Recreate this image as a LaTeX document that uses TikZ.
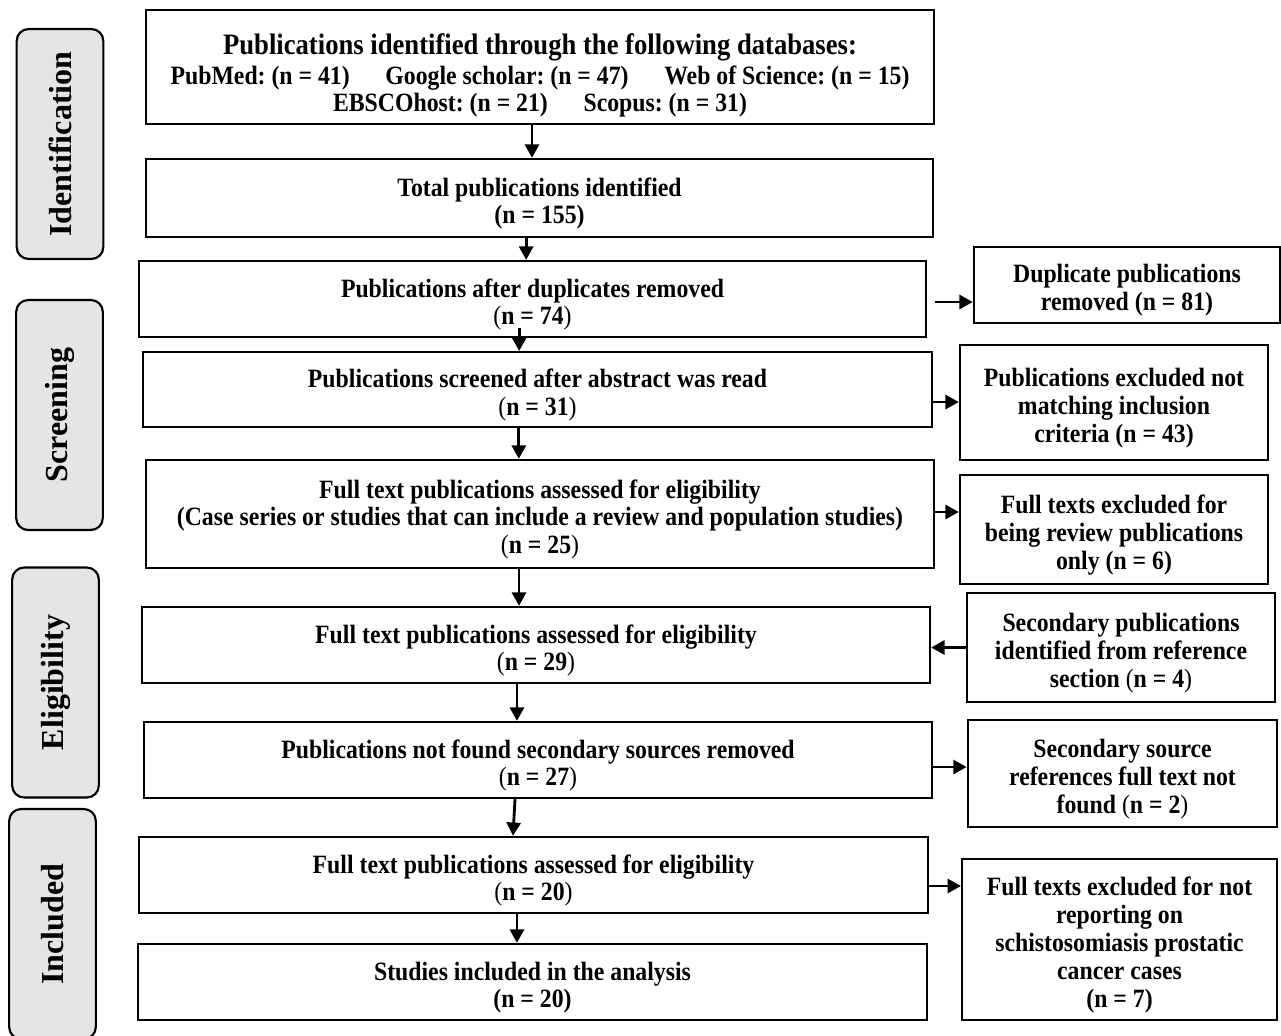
\documentclass[tikz,border=0pt]{standalone}
\usepackage{fontspec}
\setmainfont{Liberation Serif}
\newfontfamily\boxfont{Liberation Serif}[FakeStretch=0.9]
\usetikzlibrary{arrows.meta}
\frenchspacing

\newcommand{\np}[1]{\textmd{(}#1\textmd{)}}
\newcommand{\lift}{\rule{0pt}{22pt}}

\begin{document}
\begin{tikzpicture}[x=0.75pt,y=-0.75pt,
	flowbox/.style={draw,line width=1.8pt,align=center,inner sep=0pt,font=\boxfont\fontsize{19.8}{20.5}\selectfont\bfseries},
	sidebox/.style={flowbox,font=\boxfont\fontsize{19.8}{21}\selectfont\bfseries},
	stagebox/.style={draw,line width=1.6pt,rounded corners=9pt,fill=black!10,rotate=90,minimum width=172.5pt,minimum height=65pt,font=\fontsize{24}{28}\selectfont\bfseries},
	arr/.style={line width=2.1pt,-{Triangle[length=10pt,width=10.5pt]}}]
	\useasboundingbox (0,0) rectangle (1281,1035);

	% stages
	\node[stagebox] (ident) at (60,144) {Identification};
	\node[stagebox] (screen) at (59.5,415) {Screening};
	\node[stagebox] (elig) at (55.5,682.5) {Eligibility};
	\node[stagebox] (incl) at (52.5,924) {Included};

	% main column
	\node[flowbox,minimum width=591pt,minimum height=85.5pt] (src) at (540,67) {{\fontsize{22.2}{26}\selectfont\rule{0pt}{28pt}Publications identified through the following databases:}\\[2pt]
		PubMed: (n = 41)\hspace{1.35em}Google scholar: (n = 47)\hspace{1.35em}Web of Science: (n = 15)\\
		EBSCOhost: (n = 21)\hspace{1.35em}Scopus: (n = 31)};
	\node[flowbox,minimum width=590pt,minimum height=58.5pt] (tot) at (539.5,198) {\lift Total publications identified\\(n = 155)};
	\node[flowbox,minimum width=590pt,minimum height=57pt] (dedup) at (532.5,299) {\lift Publications after duplicates removed\\\np{n = 74}};
	\node[flowbox,minimum width=592pt,minimum height=56pt] (scr) at (537.5,389.5) {\lift Publications screened after abstract was read\\\np{n = 31}};
	\node[flowbox,minimum width=591pt,minimum height=81pt] (full) at (540,514) {\lift Full text publications assessed for eligibility\\(Case series or studies that can include a review and population studies)\\\np{n = 25}};
	\node[flowbox,minimum width=591pt,minimum height=57pt] (sec) at (536,645) {\lift Full text publications assessed for eligibility\\\np{n = 29}};
	\node[flowbox,minimum width=591pt,minimum height=57pt] (nf) at (538,760) {\lift Publications not found secondary sources removed\\\np{n = 27}};
	\node[flowbox,minimum width=592pt,minimum height=57pt] (fin) at (533.5,875) {\lift Full text publications assessed for eligibility\\\np{n = 20}};
	\node[flowbox,minimum width=592pt,minimum height=57pt] (inc) at (532.5,982) {\lift Studies included in the analysis\\(n = 20)};

	% side boxes
	\node[sidebox,minimum width=229.5pt,minimum height=57pt] (rdup) at (1127,285) {\lift Duplicate publications\\removed (n = 81)};
	\node[sidebox,minimum width=231pt,minimum height=86pt] (rexc) at (1114,402.5) {\lift Publications excluded not\\matching inclusion\\criteria (n = 43)};
	\node[sidebox,minimum width=231pt,minimum height=82pt] (rrev) at (1114,529.5) {\lift Full texts excluded for\\being review publications\\only (n = 6)};
	\node[sidebox,minimum width=231pt,minimum height=82pt] (radd) at (1121,647.5) {\lift Secondary publications\\identified from reference\\section \np{n = 4}};
	\node[sidebox,minimum width=232pt,minimum height=80pt] (rnf) at (1122.5,773.5) {\lift Secondary source\\references full text not\\found \np{n = 2}};
	\node[sidebox,minimum width=236pt,minimum height=121pt] (rrep) at (1119.5,939.5) {\lift Full texts excluded for not\\reporting on\\schistosomiasis prostatic\\cancer cases\\(n = 7)};

	% arrows down
	\draw[arr] ([xshift=-6pt]src.south) -- ([xshift=-6pt]src.south |- tot.north);
	\draw[arr] ([xshift=-10pt]tot.south) -- ([xshift=-10pt]tot.south |- dedup.north);
	\draw[arr] ([xshift=-10pt,yshift=7.5pt]dedup.south) -- ([xshift=-10pt]dedup.south |- scr.north);
	\draw[arr] ([xshift=-14pt]scr.south) -- ([xshift=-14pt]scr.south |- full.north);
	\draw[arr] ([xshift=-15.75pt]full.south) -- ([xshift=-15.75pt]full.south |- sec.north);
	\draw[arr] ([xshift=-14.25pt]sec.south) -- ([xshift=-14.25pt]sec.south |- nf.north);
	\draw[arr] ([xshift=-17.25pt]nf.south) -- ([xshift=-15.4pt]fin.north);
	\draw[arr] ([xshift=-12.4pt]fin.south) -- ([xshift=-12.4pt]fin.south |- inc.north);

	% arrows across
	\draw[arr] ([xshift=6pt,yshift=-2.25pt]dedup.east) -- ([yshift=-2.25pt]dedup.east -| rdup.west);
	\draw[arr] ([yshift=-9.4pt]scr.east) -- ([yshift=-9.4pt]scr.east -| rexc.west);
	\draw[arr] ([yshift=1.5pt]full.east) -- ([yshift=1.5pt]full.east -| rrev.west);
	\draw[arr] (radd.west) -- (radd.west -| sec.east);
	\draw[arr] ([yshift=-5.25pt]nf.east) -- ([yshift=-5.25pt]nf.east -| rnf.west);
	\draw[arr] ([yshift=-8.25pt]fin.east) -- ([yshift=-8.25pt]fin.east -| rrep.west);
\end{tikzpicture}
\end{document}
